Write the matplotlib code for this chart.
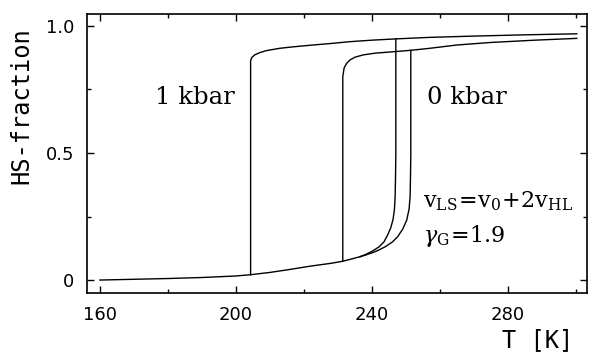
import numpy as np
import matplotlib
matplotlib.use('Agg')
import matplotlib.pyplot as plt

# Lower (LS) branch shared by both pressures
low_T = [160, 170, 180, 190, 200, 204.3, 210, 216, 222, 228, 231.4, 234, 236.5]
low_HS = [0.0, 0.003, 0.006, 0.010, 0.016, 0.021, 0.030, 0.042, 0.055, 0.066, 0.074, 0.083, 0.092]

# 1 kbar: end of lower branch + jump up at ~247 K
up1_T = [236.5, 238, 240, 242, 243.5, 244.5, 245.5, 246.2, 246.6, 246.8, 246.9, 247.0, 247.0]
up1_HS = [0.092, 0.100, 0.113, 0.130, 0.150, 0.175, 0.205, 0.240, 0.280, 0.330, 0.400, 0.500, 0.949]
# 1 kbar: upper branch, cooling jump down at ~204 K
hi1_T = [204.3, 204.3, 204.6, 205.5, 207, 209, 212.9, 217, 222.7, 228, 233.5, 240, 247, 257, 270, 285, 300.2]
hi1_HS = [0.021, 0.862, 0.875, 0.886, 0.895, 0.903, 0.912, 0.918, 0.925, 0.931, 0.938, 0.944, 0.949, 0.955, 0.960, 0.965, 0.969]

# 0 kbar: end of lower branch + jump up at ~251 K
up0_T = [236.5, 238, 240, 242, 244, 246, 247.5, 249, 250.2, 250.9, 251.2, 251.3, 251.4, 251.4]
up0_HS = [0.092, 0.098, 0.107, 0.118, 0.132, 0.150, 0.170, 0.200, 0.236, 0.280, 0.330, 0.400, 0.500, 0.904]
# 0 kbar: upper branch, cooling jump down at ~231 K
hi0_T = [231.4, 231.4, 231.8, 232.5, 233.5, 235, 237.4, 241, 246.8, 251.4, 257, 265, 275, 288, 300.2]
hi0_HS = [0.074, 0.800, 0.835, 0.852, 0.866, 0.877, 0.886, 0.893, 0.899, 0.904, 0.912, 0.925, 0.935, 0.944, 0.951]

xticks = [160, 200, 240, 280]
yticks = [0, 0.5, 1.0]
ytick_labels = ['0', '0.5', '1.0']

plt.rcParams['mathtext.fontset'] = 'dejavuserif'

fig = plt.figure(figsize=(5.89, 3.54), dpi=100)
ax = fig.add_axes([0.1477, 0.1723, 0.8489, 0.7882])

lw = 1.0
ax.plot(low_T, low_HS, color='black', lw=lw)
ax.plot(up1_T, up1_HS, color='black', lw=lw)
ax.plot(hi1_T, hi1_HS, color='black', lw=lw)
ax.plot(up0_T, up0_HS, color='black', lw=lw)
ax.plot(hi0_T, hi0_HS, color='black', lw=lw)

ax.set_xlim(156.2, 303.2)
ax.set_ylim(-0.051, 1.047)
ax.set_xticks(xticks)
ax.set_xticks([180, 220, 260, 300], minor=True)
ax.set_yticks(yticks)
ax.set_yticklabels(ytick_labels)
ax.set_yticks([0.25, 0.75], minor=True)

ax.tick_params(which='both', direction='in', top=True, right=True, width=1.0,
               labelsize=13, pad=9)
ax.tick_params(which='major', length=5)
ax.tick_params(which='minor', length=3)
for s in ax.spines.values():
    s.set_linewidth(1.2)

ax.text(188, 0.72, '1 kbar', fontsize=17.5, family='DejaVu Serif', ha='center', va='center')
ax.text(268, 0.72, '0 kbar', fontsize=17.5, family='DejaVu Serif', ha='center', va='center')
ax.text(255, 0.31, r'$\mathrm{v_{LS}\!=\!v_0\!+\!2v_{HL}}$', fontsize=16, ha='left', va='center')
ax.text(255, 0.175, r'$\gamma_{\mathrm{G}}\!=\!\mathrm{1.9}$', fontsize=16, ha='left', va='center')

fig.text(0.973, 0.040, 'T [K]', fontsize=17, family='DejaVu Sans Mono', ha='right', va='center')
fig.text(0.037, 0.702, 'HS-fraction', fontsize=17, family='DejaVu Sans Mono',
         rotation=90, ha='center', va='center')

fig.savefig('out.png', dpi=100)
